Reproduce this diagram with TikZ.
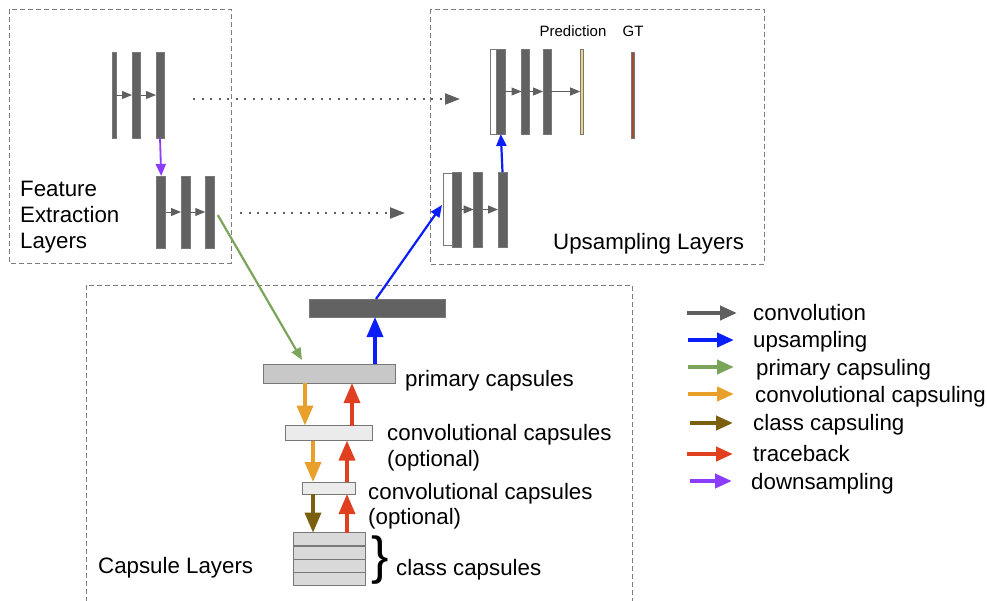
\documentclass[tikz,border=0pt]{standalone}
\usepackage{fontspec}
\setmainfont{Liberation Sans}
\usetikzlibrary{arrows.meta,calc}
\definecolor{barGray}{RGB}{98,98,98}
\definecolor{barEdge}{RGB}{120,120,120}
\definecolor{boxGray}{RGB}{125,125,125}
\definecolor{convGray}{RGB}{95,95,95}
\definecolor{upBlue}{RGB}{10,30,250}
\definecolor{primGreen}{RGB}{122,165,90}
\definecolor{capOrange}{RGB}{233,160,43}
\definecolor{clsBrown}{RGB}{122,95,14}
\definecolor{traceRed}{RGB}{224,64,31}
\definecolor{downPurple}{RGB}{139,60,255}
\definecolor{predYellow}{RGB}{232,215,138}
\definecolor{gtRed}{RGB}{163,74,50}
\definecolor{primFill}{RGB}{200,200,200}
\definecolor{convFill}{RGB}{235,235,235}
\definecolor{clsFill}{RGB}{217,217,217}
\begin{document}
\begin{tikzpicture}[x=1pt,y=-1pt,
  bar/.style={draw=barEdge,fill=barGray,line width=0.6,inner sep=0,outer sep=0},
  wbar/.style={draw=barEdge,fill=white,line width=0.8,inner sep=0,outer sep=0},
  capbar/.style={draw=barEdge,line width=0.9,inner sep=0,outer sep=0},
  region/.style={draw=boxGray,line width=1,dash pattern=on 5 off 3},
  convarrow/.style={draw=convGray,line width=1,-{Triangle[length=10,width=8]}},
  dotarrow/.style={draw=convGray,line width=2.2,dash pattern=on 2.2 off 6.3,-{Triangle[length=15,width=11,fill=convGray]}},
  thinarrow/.style={line width=2.2,-{Triangle[length=12,width=10]}},
  thickarrow/.style={line width=3.5,-{Triangle[length=20,width=16]}},
  legarrow/.style={line width=4,-{Triangle[length=17,width=14]}},
  lbl/.style={font=\fontsize{22.3}{26}\selectfont,inner sep=0,anchor=base west},
  small/.style={font=\fontsize{15}{18}\selectfont,inner sep=0,anchor=base}]
\useasboundingbox (0,0) rectangle (987,600);

% region boxes
\draw[region] (9,9) rectangle (231,263);
\draw[region] (430,9) rectangle (764,264);
\draw[region] (86,602) -- (86,285) -- (632,285) -- (632,602);

% feature extraction: top group
\node[bar,minimum width=3.5,minimum height=86] (f1a) at (114.3,95) {};
\node[bar,minimum width=8.5,minimum height=86] (f1b) at (136.3,95) {};
\node[bar,minimum width=8,minimum height=86] (f1c) at (160,95) {};
\draw[convarrow] (f1a.east) -- (f1b.west);
\draw[convarrow] (f1b.east) -- (f1c.west);
% feature extraction: bottom group
\node[bar,minimum width=9,minimum height=72] (f2a) at (161.2,212) {};
\node[bar,minimum width=9,minimum height=72] (f2b) at (185.5,212) {};
\node[bar,minimum width=9.5,minimum height=72] (f2c) at (210,212) {};
\draw[convarrow] (f2a.east) -- (f2b.west);
\draw[convarrow] (f2b.east) -- (f2c.west);
\draw[thinarrow,draw=downPurple,fill=downPurple,line width=1.8] (f1c.south) -- (f2a.north);

% upsampling: top group
\node[wbar,minimum width=6.7,minimum height=85] (u1w) at (493.3,91.5) {};
\node[bar,minimum width=8.3,minimum height=85] (u1a) at (500.8,91.5) {};
\node[bar,minimum width=7.5,minimum height=85] (u1b) at (525.3,91.5) {};
\node[bar,minimum width=8,minimum height=85] (u1c) at (547,91.5) {};
\node[draw=barEdge,fill=predYellow,line width=0.6,inner sep=0,minimum width=3,minimum height=85] (pred) at (582,91.5) {};
\node[draw=barEdge,fill=gtRed,line width=0.4,inner sep=0,minimum width=3,minimum height=86] (gt) at (633,95) {};
\draw[convarrow] (u1a.east) -- (u1b.west);
\draw[convarrow] (u1b.east) -- (u1c.west);
\draw[convarrow] (u1c.east) -- (pred.west);
\node[small] (predl) at (573,36.5) {Prediction};
\node[small] (gtl) at (633,36.5) {GT};
% upsampling: bottom group
\node[wbar,minimum width=9,minimum height=72] (u2w) at (447.5,209) {};
\node[bar,minimum width=9,minimum height=75] (u2a) at (456.5,209.5) {};
\node[bar,minimum width=9,minimum height=75] (u2b) at (478.2,209.5) {};
\node[bar,minimum width=9,minimum height=75] (u2c) at (502.5,209.5) {};
\draw[convarrow] (u2a.east) -- (u2b.west);
\draw[convarrow] (u2b.east) -- (u2c.west);
\draw[thinarrow,draw=upBlue,fill=upBlue] (u2c.north) -- (u1a.south);

% skip connections
\coordinate (d1s) at (193,99);
\coordinate (d1e) at (460,99);
\coordinate (d2s) at (240,213);
\coordinate (d2e) at (405,213);
\draw[dotarrow] (d1s) -- (d1e);
\draw[dotarrow] (d2s) -- (d2e);

% capsule layers
\node[bar,minimum width=136,minimum height=18] (dark) at (377,308) {};
\node[capbar,fill=primFill,minimum width=132,minimum height=19] (prim) at (329,373.5) {};
\node[capbar,fill=convFill,minimum width=87,minimum height=15] (conv1) at (329,433) {};
\node[capbar,fill=convFill,minimum width=53,minimum height=12] (conv2) at (329.3,488) {};
\node[capbar,fill=clsFill,minimum width=72,minimum height=13.25] (c1) at (329,539.3) {};
\node[capbar,fill=clsFill,minimum width=72,minimum height=13.25] (c2) at (329,552.6) {};
\node[capbar,fill=clsFill,minimum width=72,minimum height=13.25] (c3) at (329,565.9) {};
\node[capbar,fill=clsFill,minimum width=72,minimum height=13.25] (c4) at (329,579.1) {};

% connections between regions
\draw[thinarrow,draw=primGreen,fill=primGreen] ([xshift=3,yshift=-3]f2c.east) -- ([xshift=-27,yshift=4]prim.north);
\draw[thinarrow,draw=upBlue,fill=upBlue] ([xshift=-1]dark.north) -- ([xshift=-1,yshift=4]u2w.west);

% capsule arrows
\draw[thickarrow,draw=upBlue,fill=upBlue] ([xshift=46]prim.north) -- ([xshift=-2]dark.south);
\draw[thickarrow,draw=capOrange,fill=capOrange] ([xshift=-24]prim.south) -- ([xshift=-24]conv1.north);
\draw[thickarrow,draw=traceRed,fill=traceRed] ([xshift=23]conv1.north) -- ([xshift=23]prim.south);
\draw[thickarrow,draw=capOrange,fill=capOrange] ([xshift=-16]conv1.south) -- ([xshift=-16.3]conv2.north);
\draw[thickarrow,draw=traceRed,fill=traceRed] ([xshift=17.7]conv2.north) -- ([xshift=18]conv1.south);
\draw[thickarrow,draw=clsBrown,fill=clsBrown] ([xshift=-16.3]conv2.south) -- ([xshift=-16]c1.north);
\draw[thickarrow,draw=traceRed,fill=traceRed] ([xshift=18]c1.north) -- ([xshift=17.7]conv2.south);

% labels
\node[lbl] (fe1) at (20,196) {Feature};
\node[lbl] (fe2) at (20,222) {Extraction};
\node[lbl] (fe3) at (20,248) {Layers};
\node[lbl] (upl) at (553,249) {Upsampling Layers};
\node[lbl] (capl) at (98,573) {Capsule Layers};
\node[lbl] (priml) at (405,386) {primary capsules};
\node[lbl] (cv1a) at (387,440) {convolutional capsules};
\node[lbl] (cv1b) at (387,466) {(optional)};
\node[lbl] (cv2a) at (368,499) {convolutional capsules};
\node[lbl] (cv2b) at (368,524) {(optional)};
\node[inner sep=0,font=\fontsize{52}{52}\selectfont] (brace) at (380,560) {\}};
\node[lbl] (clsl) at (396,575) {class capsules};

% legend
\coordinate (l1s) at (687,313); \coordinate (l1e) at (737,313);
\coordinate (l2s) at (688,340); \coordinate (l2e) at (734,340);
\coordinate (l3s) at (688,367); \coordinate (l3e) at (734,367);
\coordinate (l4s) at (688,394); \coordinate (l4e) at (734,394);
\coordinate (l5s) at (690,423); \coordinate (l5e) at (733,423);
\coordinate (l6s) at (687,454); \coordinate (l6e) at (733,454);
\coordinate (l7s) at (690,481); \coordinate (l7e) at (732,481);
\draw[legarrow,draw=convGray,fill=convGray] (l1s) -- (l1e);
\draw[legarrow,draw=upBlue,fill=upBlue] (l2s) -- (l2e);
\draw[legarrow,draw=primGreen,fill=primGreen] (l3s) -- (l3e);
\draw[legarrow,draw=capOrange,fill=capOrange] (l4s) -- (l4e);
\draw[legarrow,draw=clsBrown,fill=clsBrown] (l5s) -- (l5e);
\draw[legarrow,draw=traceRed,fill=traceRed] (l6s) -- (l6e);
\draw[legarrow,draw=downPurple,fill=downPurple] (l7s) -- (l7e);
\node[lbl] (t1) at (753,320) {convolution};
\node[lbl] (t2) at (753,347) {upsampling};
\node[lbl] (t3) at (756,375) {primary capsuling};
\node[lbl] (t4) at (755,402) {convolutional capsuling};
\node[lbl] (t5) at (753,430) {class capsuling};
\node[lbl] (t6) at (753,461) {traceback};
\node[lbl] (t7) at (751,489) {downsampling};
\end{tikzpicture}
\end{document}
